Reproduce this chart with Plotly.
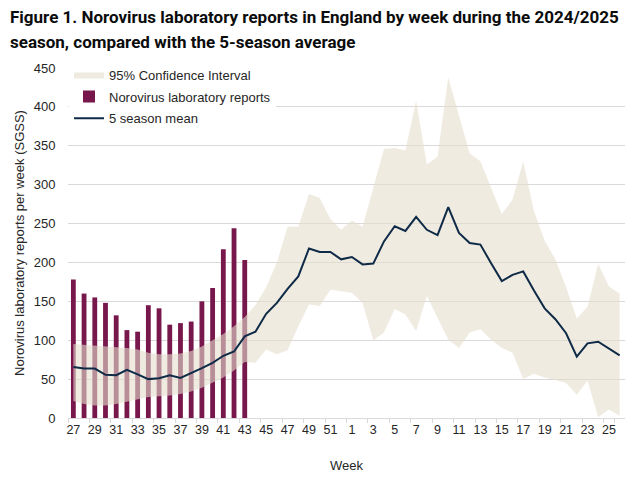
import plotly.graph_objects as go

weeks = [str(w) for w in list(range(27, 53)) + list(range(1, 27))]

reports = [178, 160, 155, 148, 132, 113, 111, 145, 141, 120, 122, 124, 150, 167, 217, 244, 203]

mean_5season = [65.5, 63.5, 63.5, 55.5, 55, 62, 56, 50, 51, 55, 51.5, 57.5, 64, 71, 80, 85.5, 105,
                111, 134, 148, 166, 182, 218, 213.5, 213.5, 204,
                207, 197.5, 198.5, 227, 246.5, 240.5, 258.5, 242, 235, 271, 238, 225, 223,
                199, 176, 184, 188.5, 164, 141, 127, 109, 79, 96, 98, 89.5, 80.5]

ci_upper = [95, 94, 93, 92, 91, 90, 88, 84, 82, 82, 83, 86, 92, 100, 108, 118, 130,
            145, 168, 200, 246, 246, 288, 283, 256, 242,
            254, 246, 297, 346, 347, 344, 408, 326, 336, 438, 389, 340, 330,
            296, 262, 281, 330, 266, 228, 204, 168, 128, 143, 198, 169, 160]

ci_lower = [22, 18, 16, 16, 18, 21, 24, 27, 28, 29, 31, 34, 39, 45, 52, 61, 72,
            71, 88, 82, 87, 118, 146, 144, 165, 163,
            161, 148, 100, 110, 140, 133, 112, 157, 129, 101, 90, 110, 114,
            101, 90, 84, 50, 57, 52, 49, 45, 30, 48, 1, 11, 3]

BAND = "rgba(228,222,203,0.6)"
BAR = "#77174b"
LINE = "#0e2a47"
GRID = "#d9d9d9"
TXT = "#262626"
FONT = "Liberation Sans, Arial, sans-serif"

fig = go.Figure()

fig.add_trace(go.Scatter(x=weeks, y=ci_lower, mode="lines", line=dict(width=0, color=BAND),
                         showlegend=False, hoverinfo="skip", legendgroup="ci"))
fig.add_trace(go.Scatter(x=weeks, y=ci_upper, mode="lines", line=dict(width=0, color=BAND),
                         fill="tonexty", fillcolor=BAND, name="95% Confidence Interval",
                         legendgroup="ci"))
fig.add_trace(go.Bar(x=weeks[:len(reports)], y=reports, marker=dict(color=BAR, line=dict(width=0)),
                     name="Norovirus laboratory reports", legendgroup="bar"))
fig.add_trace(go.Scatter(x=weeks, y=mean_5season, mode="lines", line=dict(color=LINE, width=2),
                         name="5 season mean", legendgroup="mean"))

W, H = 634, 478
L, R, T, B = 68, 9, 68, 60
pw, ph = W - L - R, H - T - B

fig.update_layout(
    width=W, height=H,
    margin=dict(l=L, r=R, t=T, b=B, autoexpand=False),
    paper_bgcolor="white", plot_bgcolor="white",
    font=dict(family=FONT, size=13, color=TXT),
    bargap=0.55,
    showlegend=True,
    legend=dict(x=(69 - L) / pw, y=1.024, xanchor="left", yanchor="top", bgcolor="white",
                font=dict(size=13, color=TXT), itemwidth=30, tracegroupgap=2,
                traceorder="grouped"),
    xaxis=dict(type="category", categoryorder="array", categoryarray=weeks,
               tickmode="array", tickvals=weeks[::2], ticktext=weeks[::2], tickangle=0,
               showgrid=False, showline=True, linecolor=GRID, linewidth=1,
               ticks="outside", ticklen=4, tickcolor=GRID, tickson="boundaries",
               tickfont=dict(size=12.5, color=TXT), automargin=False,
               title=dict(text="Week", font=dict(size=13, color=TXT), standoff=24),
               range=[-0.5, len(weeks) - 0.5]),
    yaxis=dict(range=[0, 450], dtick=50, showgrid=True, gridcolor=GRID, gridwidth=1,
               zeroline=False, showline=False, ticks="outside", ticklen=9,
               tickcolor="rgba(0,0,0,0)", automargin=False,
               tickfont=dict(size=13, color=TXT),
               title=dict(text="Norovirus laboratory reports per week (SGSS)",
                          font=dict(size=13, color=TXT), standoff=6)),
)

title_lines = ["Figure 1. Norovirus laboratory reports in England by week during the 2024/2025",
               "season, compared with the 5-season average"]
for i, line in enumerate(title_lines):
    fig.add_annotation(text="<b>" + line + "</b>", xref="paper", yref="paper",
                       x=(8 - L) / pw, y=(H - B - (17 + 25 * i)) / ph,
                       xanchor="left", yanchor="middle", showarrow=False,
                       font=dict(family="Roboto, sans-serif", size=17, color="#0b0c0c"))

fig.write_html("out.html", config={"displayModeBar": False},
               post_script="document.body.style.margin='0';")
